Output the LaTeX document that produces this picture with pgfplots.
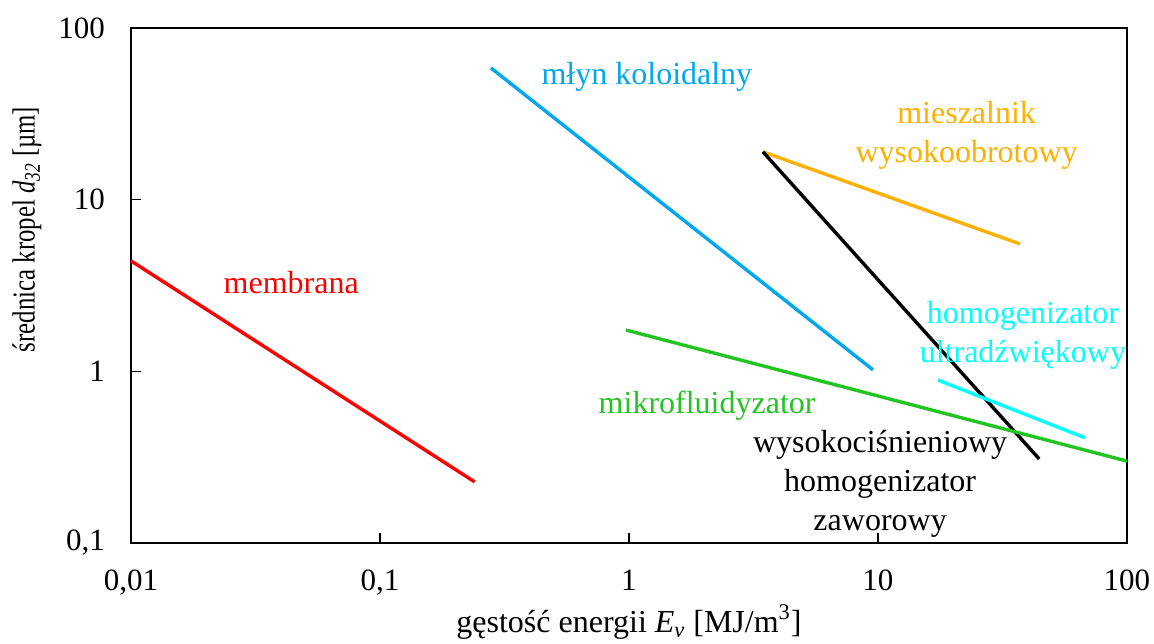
\documentclass[border=0pt]{standalone}
\usepackage{pgfplots}
\pgfplotsset{compat=1.18}
\usepackage{graphicx}
\usepackage{fontspec}
\setmainfont{Liberation Serif}
\definecolor{cred}{RGB}{255,0,0}
\definecolor{cblue}{RGB}{0,168,240}
\definecolor{corange}{RGB}{255,176,0}
\definecolor{cgreen}{RGB}{34,196,34}
\definecolor{ccyan}{RGB}{0,255,255}
\begin{document}
\fontsize{16}{19.5}\selectfont
\begin{tikzpicture}
\begin{axis}[
  scale only axis,
  width=498pt, height=257.5pt,
  xmode=log, ymode=log,
  xmin=0.01, xmax=100, ymin=0.1, ymax=100,
  xtick={0.01,0.1,1,10,100}, ytick={0.1,1,10,100},
  xticklabels={0{,}01,0{,}1,1,10,100},
  yticklabels={0{,}1,1,10,100},
  xminorticks=false, yminorticks=false,
  tick pos=left, tick align=inside,
  major tick length=5pt,
  tick style={black, line width=0.8pt},
  axis line style={line width=1pt},
  /pgf/number format/assume math mode=true,
  ticklabel style={font=\fontsize{15.5}{18}\selectfont},
  xticklabel style={yshift=-8pt},
  yticklabel style={xshift=-7.5pt},
  xlabel={gęstość energii \textit{E\textsubscript{v}} [MJ/m\textsuperscript{3}]},
  ylabel={\scalebox{0.775}[1]{średnica kropel \textit{d\textsubscript{32}} [µm]}},
  label style={font=\fontsize{16}{19}\selectfont},
  xlabel style={at={([yshift=-39.5pt]axis description cs:0.5,0)}, anchor=center},
  ylabel style={at={([xshift=-52pt,yshift=28pt]axis description cs:0,0.5)}, anchor=center},
  clip=false,
]
\addplot[cred, line width=1.7pt] coordinates {(0.01,4.4) (0.24,0.227)};
\addplot[cblue, line width=1.7pt] coordinates {(0.279,58.5) (9.55,1.02)};
\addplot[corange, line width=1.7pt] coordinates {(3.45,19) (37.2,5.52)};
\addplot[black, line width=1.7pt] coordinates {(3.45,19) (44.4,0.309)};
\addplot[cgreen, line width=1.7pt] coordinates {(0.973,1.74) (100,0.30)};
\addplot[ccyan, line width=1.7pt] coordinates {(17.4,0.89) (67.8,0.41)};
\node[cred] at (axis cs:0.044,3.27) {membrana};
\node[cblue] at (axis cs:1.18,51.9) {młyn koloidalny};
\node[corange, align=center, inner sep=0pt] at (axis cs:22.7,23.8) {mieszalnik\\wysokoobrotowy};
\node[ccyan, align=center, inner sep=0pt] at (axis cs:38.2,1.61) {homogenizator\\ultradźwiękowy};
\node[cgreen] at (axis cs:2.06,0.63) {mikrofluidyzator};
\node[black, align=center, inner sep=0pt] at (axis cs:10.2,0.221) {wysokociśnieniowy\\homogenizator\\zaworowy};
\end{axis}
\pgfresetboundingbox
\path ([shift={(-65.5pt,-50.5pt)}]current axis.south west) rectangle ([shift={(13.5pt,14pt)}]current axis.north east);
\end{tikzpicture}
\end{document}
